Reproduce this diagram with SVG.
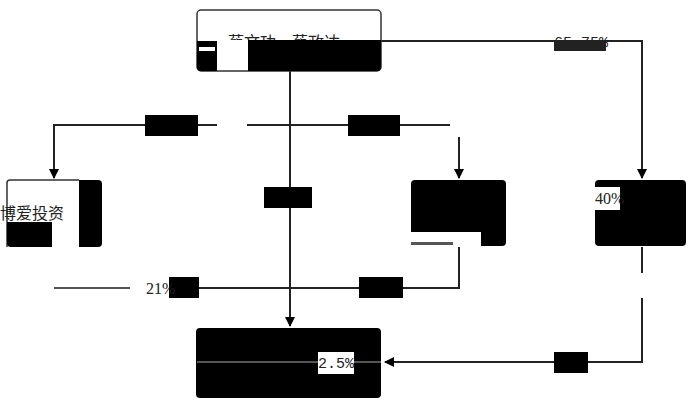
<svg xmlns="http://www.w3.org/2000/svg" width="686" height="398" viewBox="0 0 686 398">
<defs>
<marker id="arr" markerWidth="10" markerHeight="10" refX="9" refY="5" orient="auto" markerUnits="userSpaceOnUse">
<path d="M0,0 L10,5 L0,10 Z" fill="#000"/>
</marker>
<style>
.ln{stroke:#222;stroke-width:2;fill:none}
.gl{stroke:#555;stroke-width:2;fill:none}
.blk{fill:#000}
.node{fill:#fff;stroke:#333;stroke-width:1.5}
.t{font-family:"Liberation Serif","Noto Sans CJK SC",serif;font-size:16px;fill:#222}
.tm{font-family:"Liberation Mono","Noto Sans CJK SC",monospace;font-size:15px;fill:#222}
</style>
</defs>
<g id="connectors">
<path class="ln" d="M290,71 V326" marker-end="url(#arr)"/>
<path class="ln" d="M381,41 H642 V178" marker-end="url(#arr)"/>
<path class="ln" d="M217,125 H54 V178" marker-end="url(#arr)"/>
<path class="ln" d="M247,125 H450"/>
<path class="ln" d="M459,137 V178" marker-end="url(#arr)"/>
<path class="gl" d="M54,288 H130"/>
<path class="ln" d="M199,288 H459 V247"/>
<path class="ln" d="M642,247 V273"/>
<path class="ln" d="M642,298 V362 H385" marker-end="url(#arr)"/>
<rect class="blk" x="145" y="115" width="53" height="21"/>
<rect class="blk" x="348" y="115" width="52" height="21"/>
<rect class="blk" x="264" y="187" width="48" height="21"/>
<rect class="blk" x="169" y="277" width="30" height="21"/>
<rect class="blk" x="359" y="277" width="44" height="21"/>
<rect class="blk" x="554" y="352" width="34" height="21"/>
<text class="tm" x="554" y="47">65.75%</text>
<rect x="554" y="41" width="52" height="10" fill="#222"/>
<rect x="146" y="277" width="23" height="21" fill="#fff"/>
<text class="t" x="146" y="294" font-size="15">21%</text>
</g>
<g id="top">
<rect class="node" x="197" y="10" width="184" height="61" rx="4"/>
<text class="t" x="228" y="48">蔡文功、蔡政达</text>
<rect x="217" y="40" width="31" height="30" fill="#fff"/>
<path class="blk" d="M248,40 H381 V67 Q381,71 377,71 H248 Z"/>
<path class="blk" d="M197,41 H217 V71 H201 Q197,71 197,67 Z"/>
<rect x="199" y="47" width="16" height="4" fill="#fff"/>
</g>
<g id="left">
<path d="M7,247 V183 Q7,180 10,180 H79" fill="#fff" stroke="#333" stroke-width="1.5"/>
<path class="blk" d="M79,180 H98 Q102,180 102,184 V243 Q102,247 98,247 H79 Z"/>
<path class="blk" d="M7,222 H52 V247 H11 Q7,247 7,243 Z"/>
<text class="t" x="0" y="219">博爱投资</text>
</g>
<g id="midright">
<rect class="blk" x="411" y="180" width="95" height="66" rx="4"/>
<rect x="411" y="232" width="42" height="14" fill="#fff"/>
<rect x="411" y="242" width="42" height="3" fill="#555"/>
<rect x="453" y="232" width="28" height="14" fill="#fff"/>
</g>
<g id="right">
<rect class="blk" x="595" y="180" width="91" height="66" rx="4"/>
<rect x="595" y="187" width="25" height="23" fill="#fff"/>
<text class="t" x="595" y="204" font-size="15">40%</text>
</g>
<g id="bottom">
<rect class="blk" x="196" y="328" width="185" height="70" rx="4"/>
<line x1="197" y1="362" x2="381" y2="362" stroke="#555" stroke-width="2"/>
<rect x="318" y="352" width="36" height="22" fill="#fff"/>
<text class="tm" x="318" y="368">2.5%</text>
</g>
</svg>
